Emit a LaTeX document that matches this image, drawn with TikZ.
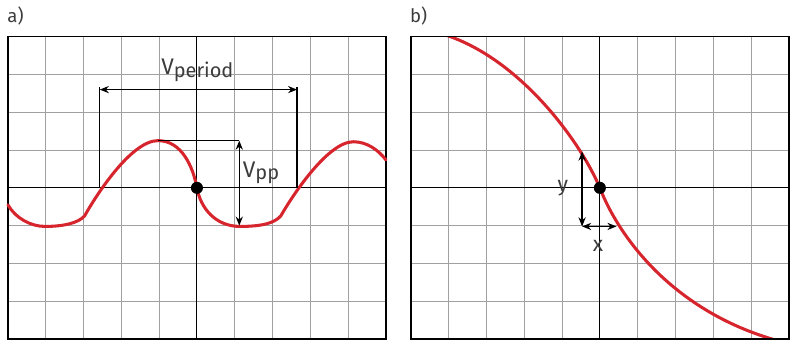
\documentclass[tikz,border=0pt]{standalone}
\usepackage{fontspec}
\setmainfont{Fira Sans}
\usetikzlibrary{arrows.meta,positioning}
\definecolor{tracered}{RGB}{214,37,45}
\definecolor{gridgray}{RGB}{160,160,160}
\definecolor{labelgray}{RGB}{60,60,60}

\begin{document}
\begin{tikzpicture}[
  gridline/.style={gridgray, line width=0.7pt},
  axis/.style={black, line width=0.7pt},
  frame/.style={black, line width=1.1pt},
  trace/.style={tracered, line width=2.3pt, line cap=round},
  guide/.style={black, line width=1pt},
  dim/.style={{Stealth[length=2.4mm,width=1.9mm]}-{Stealth[length=2.4mm,width=1.9mm]}, line width=1pt},
  lbl/.style={text=labelgray, inner sep=0pt, font=\fontsize{17}{20}\selectfont},
  panel/.style={text=labelgray, inner sep=0pt, anchor=west, font=\fontsize{14}{17}\selectfont},
  spot/.style={circle, fill=black, inner sep=0pt, minimum size=3.2mm},
]
  \useasboundingbox (-5.21,-4.05) rectangle (15.69,4.97);

  % a) periodic trace
  \node[panel] (lbla) at (-5.02,4.55) {a)};
  \draw[gridline] (-5,-4) grid (5,4);
  \draw[axis] (-5,0) -- (5,0) (0,-4) -- (0,4);
  \draw[frame] (-5,-4) rectangle (5,4);
  \draw[trace] (-5,-0.45) .. controls (-4.8,-0.8) and (-4.4,-1.02) .. (-4.02,-1.02)
    .. controls (-3.55,-1.02) and (-3.15,-0.94) .. (-2.97,-0.74)
    .. controls (-2.7,-0.25) and (-1.75,1.25) .. (-1.03,1.25)
    .. controls (-0.4,1.25) and (-0.1,0.55) .. (0,0)
    .. controls (0.1,-0.55) and (0.5,-1.02) .. (1.14,-1.02)
    .. controls (1.7,-1.02) and (2.05,-0.94) .. (2.22,-0.74)
    .. controls (2.5,-0.25) and (3.45,1.22) .. (4.14,1.22)
    .. controls (4.5,1.22) and (4.8,1.0) .. (5,0.74);
  \node[spot] (zeroa) at (0,0) {};

  \coordinate (perL) at (-2.57,0);
  \coordinate (perR) at (2.65,0);
  \coordinate (perLtop) at (-2.57,2.68);
  \coordinate (perRtop) at (2.65,2.68);
  \coordinate (perLarr) at (-2.57,2.6);
  \coordinate (perRarr) at (2.65,2.6);
  \draw[guide] (perL) -- (perLtop);
  \draw[guide] (perR) -- (perRtop);
  \draw[dim] (perLarr) -- (perRarr);
  \node[lbl, anchor=base west] (vperiod) at (-0.95,2.99) {V{\fontsize{15}{18}\selectfont\raisebox{-2pt}{period}}};

  \coordinate (peak) at (-1.03,1.25);
  \coordinate (ppTop) at (1.12,1.25);
  \coordinate (ppBot) at (1.12,-1.0);
  \draw[guide] (peak) -- (ppTop);
  \draw[dim] (ppTop) -- (ppBot);
  \node[lbl, anchor=base west] (vpp) at (1.21,0.28) {V{\fontsize{15}{18}\selectfont\raisebox{-1.5pt}{pp}}};

  % b) slope at zero crossing
  \begin{scope}[shift={(10.66,0)}]
    \node[panel] (lblb) at (-5.03,4.55) {b)};
    \draw[gridline] (-5,-4) grid (5,4);
    \draw[axis] (-5,0) -- (5,0) (0,-4) -- (0,4);
    \begin{scope}
      \clip (-5,-4) rectangle (5,4);
      \draw[trace] (-4.2,4.08) .. controls (-2.2,3.5) and (-0.55,1.3) .. (0,0)
        .. controls (0.5,-1.3) and (2.0,-3.4) .. (5.0,-4.12);
    \end{scope}
    \draw[frame] (-5,-4) rectangle (5,4);
    \node[spot] (zerob) at (0,0) {};

    \coordinate (yTop) at (-0.47,0.96);
    \coordinate (yBot) at (-0.47,-1.02);
    \coordinate (xEnd) at (0.44,-1.02);
    \draw[dim] (yTop) -- (yBot);
    \draw[dim] (yBot) -- (xEnd);
    \node[lbl, font=\fontsize{16}{19}\selectfont] (ylbl) at (-0.98,0.0) {y};
    \node[lbl, font=\fontsize{16}{19}\selectfont] (xlbl) at (-0.05,-1.53) {x};
  \end{scope}
\end{tikzpicture}
\end{document}
